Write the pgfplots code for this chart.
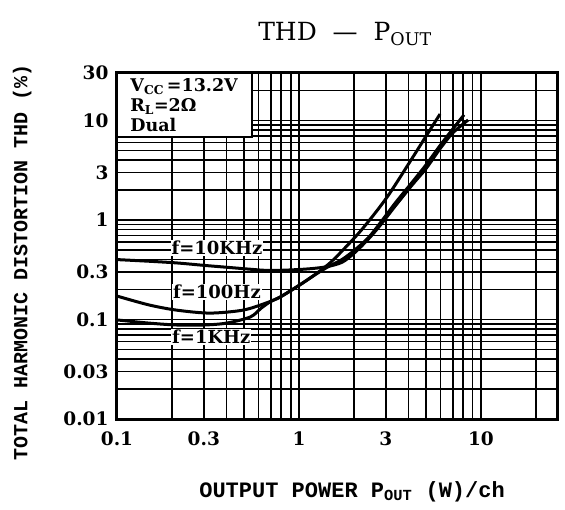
\documentclass[border=0pt]{standalone}
\usepackage{fontspec}
\usepackage{pgfplots}
\pgfplotsset{compat=1.18}
\setmainfont{DejaVu Serif}
\setmonofont{Liberation Mono}

\pgfplotstableread{
x y
0.1 0.40
0.15 0.385
0.214 0.37
0.3 0.35
0.4 0.335
0.54 0.32
0.65 0.312
0.787 0.312
1.0 0.318
1.2 0.326
1.43 0.34
1.72 0.375
2.0 0.46
2.4 0.64
2.79 0.88
3.4 1.4
4.23 2.3
5.0 3.3
5.96 5.2
7.0 7.5
8.5 10.1
}\tenk

\pgfplotstableread{
x y
0.1 0.172
0.15 0.14
0.214 0.124
0.324 0.116
0.49 0.124
0.65 0.145
0.787 0.168
1.0 0.22
1.2 0.275
1.48 0.37
1.8 0.53
2.25 0.83
3.05 1.7
4.23 4.3
5.0 7.0
5.96 11.6
}\hundred

\pgfplotstableread{
x y
0.1 0.099
0.15 0.092
0.214 0.088
0.3 0.088
0.4 0.092
0.54 0.106
0.62 0.13
0.7 0.152
0.787 0.168
1.0 0.22
1.2 0.275
1.43 0.335
1.72 0.40
2.0 0.49
2.4 0.66
2.79 0.93
3.4 1.5
4.23 2.45
5.0 3.6
5.96 5.6
7.0 8.2
8.07 11.4
}\onek

\begin{document}
\begin{tikzpicture}
\path[use as bounding box] (-117pt,-90pt) rectangle (448pt,419pt);
\begin{axis}[
  at={(0,0)}, anchor=south west,
  scale only axis, width=441pt, height=346pt,
  xmode=log, ymode=log,
  xmin=0.1, xmax=26.5, ymin=0.01, ymax=30,
  xtick={0.1,0.3,1,3,10}, xticklabels={0.1,0.3,1,3,10},
  ytick={0.01,0.03,0.1,0.3,1,3,10,30},
  yticklabels={0.01,0.03,0.1,0.3,1,3,10,30},
  minor xtick={0.2,0.4,0.5,0.6,0.7,0.8,0.9,2,4,5,6,7,8,9,20},
  minor ytick={0.02,0.04,0.05,0.06,0.07,0.08,0.09,0.2,0.4,0.5,0.6,0.7,0.8,0.9,2,4,5,6,7,8,9,20},
  grid=both,
  major grid style={black, line width=1.7pt},
  minor grid style={black, line width=1.7pt},
  major tick length=0pt, minor tick length=0pt,
  axis line style={line width=3pt},
  tick label style={font=\fontsize{18.5}{20}\selectfont\bfseries},
  xticklabel style={yshift=-9pt},
  yticklabel style={xshift=-5pt},
  title={THD\ \ —\ \ P\textsubscript{OUT}},
  title style={at={(axis description cs:0.517,1.095)}, anchor=center, font=\fontsize{25}{28}\selectfont},
  xlabel={OUTPUT POWER P\textsubscript{OUT} (W)/ch},
  xlabel style={at={(axis description cs:0.533,-0.21)}, anchor=center, font=\ttfamily\bfseries\fontsize{22}{24}\selectfont},
  ylabel={TOTAL HARMONIC DISTORTION THD (\%)},
  ylabel style={at={(axis description cs:-0.215,0.451)}, anchor=center, font=\ttfamily\bfseries\fontsize{20}{22}\selectfont},
]
\fill[white] ([xshift=1.5pt]rel axis cs:0,0.815) rectangle ([yshift=-1.5pt]rel axis cs:0.306,1);
\draw[line width=1.5pt] (rel axis cs:0,0.815) -- (rel axis cs:0.306,0.815) -- (rel axis cs:0.306,1);
\node[anchor=north west, align=left, inner sep=0pt, font=\bfseries\fontsize{17.5}{20}\selectfont]
  at (rel axis cs:0.03,0.985) {V\textsubscript{CC}\,=13.2V\\R\textsubscript{L}=2Ω\\Dual};

\addplot[black, line width=3pt, smooth] table[x=x,y=y] {\tenk};
\addplot[black, line width=3pt, smooth] table[x=x,y=y] {\hundred};
\addplot[black, line width=3pt, smooth] table[x=x,y=y] {\onek};

\node[fill=white, inner sep=1pt, font=\bfseries\fontsize{18}{20}\selectfont] at (axis cs:0.354,0.52) {f=10KHz};
\node[fill=white, inner sep=1pt, font=\bfseries\fontsize{18}{20}\selectfont] at (axis cs:0.354,0.19) {f=100Hz};
\node[fill=white, inner sep=1pt, font=\bfseries\fontsize{18}{20}\selectfont] at (axis cs:0.33,0.067) {f=1KHz};
\end{axis}
\end{tikzpicture}
\end{document}
